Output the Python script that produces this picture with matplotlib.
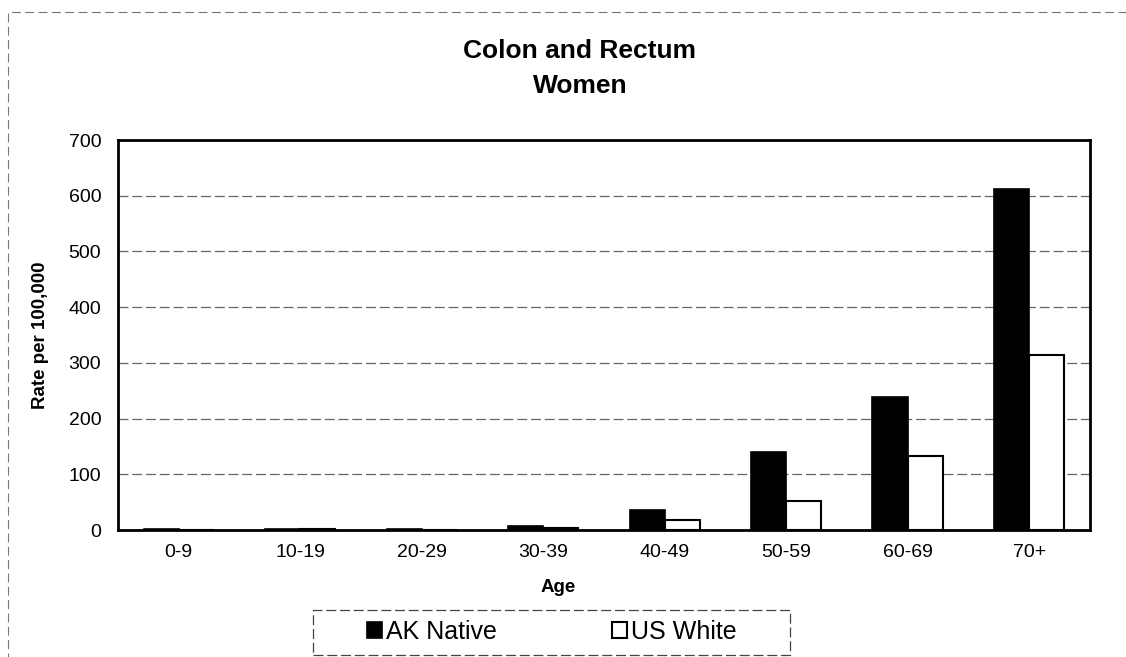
import numpy as np
import matplotlib.pyplot as plt
from matplotlib.patches import Rectangle

plt.rcParams['font.family'] = ['Liberation Sans', 'DejaVu Sans']

ages = ['0-9', '10-19', '20-29', '30-39', '40-49', '50-59', '60-69', '70+']
ak_native = [1, 1, 1, 7, 36, 140, 239, 612]
us_white = [0.5, 1, 0.5, 4, 18, 52, 132, 314]

fig = plt.figure(figsize=(11.26, 6.57), dpi=100)
ax = fig.add_axes([0.1048, 0.1933, 0.8632, 0.5936])

x = np.arange(len(ages))
w = 0.29
ax.bar(x - w / 2, ak_native, w, color='black', edgecolor='black', linewidth=1.2,
       label='AK Native', zorder=3)
ax.bar(x + w / 2, us_white, w, color='white', edgecolor='black', linewidth=1.5,
       label='US White', zorder=3)

ax.set_xlim(-0.5, len(ages) - 0.5)
ax.set_ylim(0, 700)
ax.set_yticks(np.arange(0, 800, 100))
ax.set_xticks(x)
ax.set_xticklabels(ages)
ax.tick_params(axis='both', length=0, labelsize=14)
ax.tick_params(axis='x', pad=10)
ax.tick_params(axis='y', pad=12)
ax.yaxis.grid(True, color='#666666', linestyle=(0, (8, 3)), linewidth=0.9, zorder=0)
for s in ax.spines.values():
    s.set_linewidth(2)

# titles and axis labels placed in figure coords
fig.text(0.515, 0.9117, 'Colon and Rectum', ha='center', va='baseline',
         fontsize=19, fontweight='bold')
fig.text(0.515, 0.8584, 'Women', ha='center', va='baseline',
         fontsize=19, fontweight='bold')
fig.text(0.496, 0.099, 'Age', ha='center', va='baseline', fontsize=13.5, fontweight='bold')
fig.text(0.0364, 0.49, 'Rate per 100,000', ha='center', va='center', rotation=90,
         fontsize=13.5, fontweight='bold')

leg = fig.legend(loc='center', bbox_to_anchor=(0.49, 0.038), ncol=2, fontsize=18,
                 frameon=False, handlelength=0.6, handleheight=0.6,
                 columnspacing=4.6, handletextpad=0.15, borderpad=0, borderaxespad=0)

# dashed legend box
fig.patches.append(Rectangle((0.278, 0.003), 0.424, 0.0685, transform=fig.transFigure,
                             fill=False, edgecolor='#444444', linestyle=(0, (8, 3)),
                             linewidth=0.9))

# dashed outer border of the page
fig.patches.append(Rectangle((0.007, -0.05), 1.1, 1.032, transform=fig.transFigure,
                             fill=False, edgecolor='#777777', linestyle=(0, (8, 4)),
                             linewidth=0.8))

fig.savefig('out.png', dpi=100)
